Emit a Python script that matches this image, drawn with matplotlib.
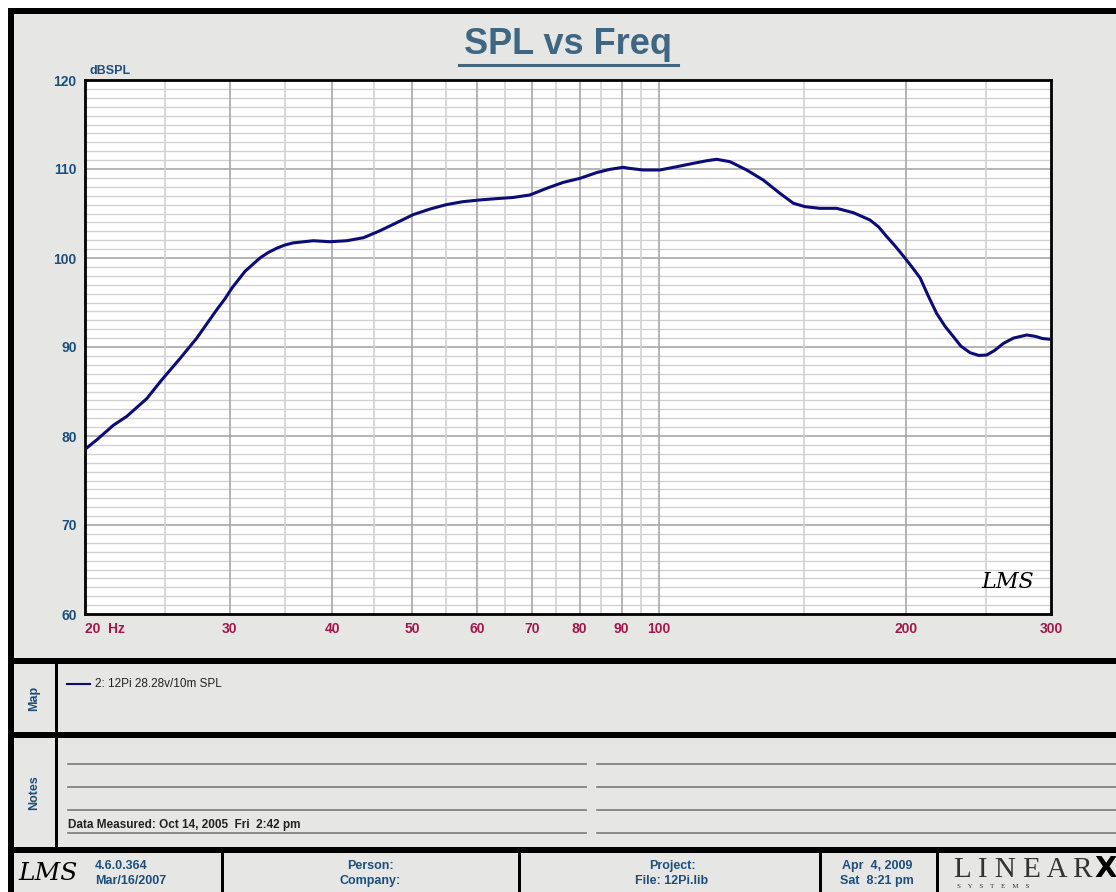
import matplotlib.pyplot as plt
from matplotlib.patches import Rectangle

# values
freq = [20, 20.66, 21.65, 22.48, 23.78, 24.8, 26.1, 27.36, 28.94, 29.6, 30.18, 31.32, 32.66,
        33.4, 34.24, 35.0, 35.86, 37.92, 39.75, 41.66, 43.66, 45.74, 47.92, 50.18, 52.6, 55.1, 57.7,
        60.5, 63.4, 66.4, 69.6, 72.96, 76.46, 80.1, 83.96, 87.1, 90.4, 92.1, 95.6, 100.2,
        105.1, 110.1, 114.3, 117.5, 122, 127.8, 133.9, 140.3, 145.7, 150.5, 157, 164.5,
        172.4, 180.6, 185, 189.3, 194, 199.2, 203.5, 207.9, 212.5, 217.7, 223, 228.2, 233,
        239.1, 245, 250.5, 256, 262.5, 270, 280.3, 287, 293, 300]
spl = [78.5, 79.55, 81.2, 82.2, 84.2, 86.3, 88.7, 91.0, 94.2, 95.4, 96.6, 98.5, 100.0,
       100.6, 101.1, 101.45, 101.7, 101.94, 101.83, 101.94, 102.28, 103.07, 103.97, 104.87, 105.5, 106.0, 106.33,
       106.52, 106.67, 106.8, 107.08, 107.83, 108.5, 108.95, 109.6, 109.96, 110.19, 110.07, 109.89, 109.89,
       110.26, 110.64, 110.93, 111.09, 110.82, 109.89, 108.76, 107.27, 106.15, 105.77, 105.58, 105.58,
       105.09, 104.27, 103.5, 102.4, 101.3, 100.0, 98.9, 97.75, 95.8, 93.78, 92.3, 91.16, 90.1,
       89.36, 89.05, 89.1, 89.6, 90.4, 91.0, 91.35, 91.2, 90.95, 90.86]

x_major = [20, 30, 40, 50, 60, 70, 80, 90, 100, 200, 300]
x_labels = ['20  Hz', '30', '40', '50', '60', '70', '80', '90', '100', '200', '300']
x_minor = [25, 35, 45, 55, 65, 75, 85, 95, 150, 250]
y_major = [60, 70, 80, 90, 100, 110, 120]

legend_text = '2: 12Pi 28.28v/10m SPL'
measured = 'Data Measured: Oct 14, 2005  Fri  2:42 pm'
footer = [(95, '4.6.0.364', 'Mar/16/2007', 'left'),
          (370, 'Person:', 'Company:', 'center'),
          (672, 'Project:', 'File: 12Pi.lib', 'center'),
          (877, 'Apr  4, 2009', 'Sat  8:21 pm', 'center')]

W, H = 1116, 892
narrow = ['Liberation Sans Narrow', 'Liberation Sans', 'DejaVu Sans']
blue = '#1d4f7c'
red = '#a3174d'
panel = '#e6e6e4'

fig = plt.figure(figsize=(W / 100, H / 100), dpi=100, facecolor='white')

# background frame drawn in pixel coordinates
bg = fig.add_axes([0, 0, 1, 1], zorder=0)
bg.set_xlim(0, W)
bg.set_ylim(H, 0)
bg.axis('off')

def box(x0, y0, x1, y1, color='black'):
    bg.add_patch(Rectangle((x0, y0), x1 - x0, y1 - y0, color=color, lw=0))

box(8, 8, W, H, panel)
box(8, 8, W, 14)          # top border
box(8, 8, 14, H)          # left border
box(8, 658, W, 664)       # under chart
box(8, 732, W, 738)       # under map
box(8, 847, W, 853)       # under notes
box(55, 664, 58, 847)     # label column
for sx in [221, 518, 819, 936]:
    box(sx, 853, sx + 3, H)

bg.text(34, 698, 'Map', rotation=90, ha='center', va='center', color=blue,
        fontsize=9, fontweight='bold', family=narrow)
bg.text(34, 793, 'Notes', rotation=90, ha='center', va='center', color=blue,
        fontsize=9, fontweight='bold', family=narrow)

bg.plot([67, 90], [684, 684], color='#0a0a78', lw=1.5)
bg.text(95, 684, legend_text, ha='left', va='center', fontsize=8.5,
        color='#222222', family='Liberation Sans')

for ly in [764, 787, 810, 833]:
    bg.plot([68, 586], [ly, ly], color='#7a7a7a', lw=1.2)
    bg.plot([597, W], [ly, ly], color='#7a7a7a', lw=1.2)
bg.text(68, 831, measured, ha='left', va='bottom', fontsize=8.5,
        fontweight='bold', color='#222222', family=narrow)

for fx, l1, l2, ha in footer:
    bg.text(fx, 866, l1, ha=ha, va='center', fontsize=9, fontweight='bold', color=blue, family=narrow)
    bg.text(fx, 881, l2, ha=ha, va='center', fontsize=9, fontweight='bold', color=blue, family=narrow)

bg.text(48, 873, 'LMS', ha='center', va='center', fontsize=18, style='italic',
        color='black', family='DejaVu Serif')
bg.text(954, 870, 'L I N E A R', ha='left', va='center', fontsize=21,
        color='#333333', family='Liberation Serif')
bg.text(1094, 869, 'X', ha='left', va='center', fontsize=21, fontweight='bold',
        color='black', family='DejaVu Sans')
bg.text(957, 887, 'S    Y    S    T    E    M    S', ha='left', va='center',
        fontsize=5, color='#333333', family='Liberation Serif')

# title with underline
bg.text(568, 44, 'SPL vs Freq', ha='center', va='center', fontsize=26,
        fontweight='bold', color='#3f6783', family=narrow)
bg.plot([459, 678], [65, 65], color='#3f6783', lw=2.2)

# chart
ax = fig.add_axes([85 / W, 1 - 614 / H, 966 / W, 534 / H], zorder=1)
ax.set_facecolor('white')
ax.set_xscale('log')
ax.set_xlim(20, 300)
ax.set_ylim(60, 120)

for v in range(61, 120):
    if v % 10:
        ax.axhline(v, color='#d2d2d2', lw=1.0, zorder=1)
for v in y_major[1:-1]:
    ax.axhline(v, color='#a8a8a8', lw=1.2, zorder=1)
for v in x_minor:
    ax.axvline(v, color='#d2d2d2', lw=1.2, zorder=1)
for v in x_major[1:-1]:
    ax.axvline(v, color='#a8a8a8', lw=1.2, zorder=1)

ax.plot(freq, spl, color='#0c0c78', lw=2.2, zorder=3, solid_joinstyle='round')

ax.set_xticks(x_major)
ax.set_xticklabels(x_labels)
ax.set_xticks([], minor=True)
ax.set_yticks(y_major)
ax.tick_params(length=0, pad=6)
for t in ax.get_xticklabels():
    t.set_color(red)
    t.set_fontweight('bold')
    t.set_fontsize(10)
    t.set_family(narrow)
ax.get_xticklabels()[0].set_horizontalalignment('left')
for t in ax.get_yticklabels():
    t.set_color(blue)
    t.set_fontweight('bold')
    t.set_fontsize(10)
    t.set_family(narrow)
for s in ax.spines.values():
    s.set_linewidth(2)
    s.set_color('black')

ax.text(0.005, 1.005, 'dBSPL', transform=ax.transAxes, ha='left', va='bottom',
        color=blue, fontsize=9, fontweight='bold', family=narrow)
ax.text(0.955, 0.04, 'LMS', transform=ax.transAxes, ha='center', va='bottom',
        fontsize=16, style='italic', color='black', family='DejaVu Serif', zorder=4)

fig.savefig('out.png', dpi=100, facecolor='white')
